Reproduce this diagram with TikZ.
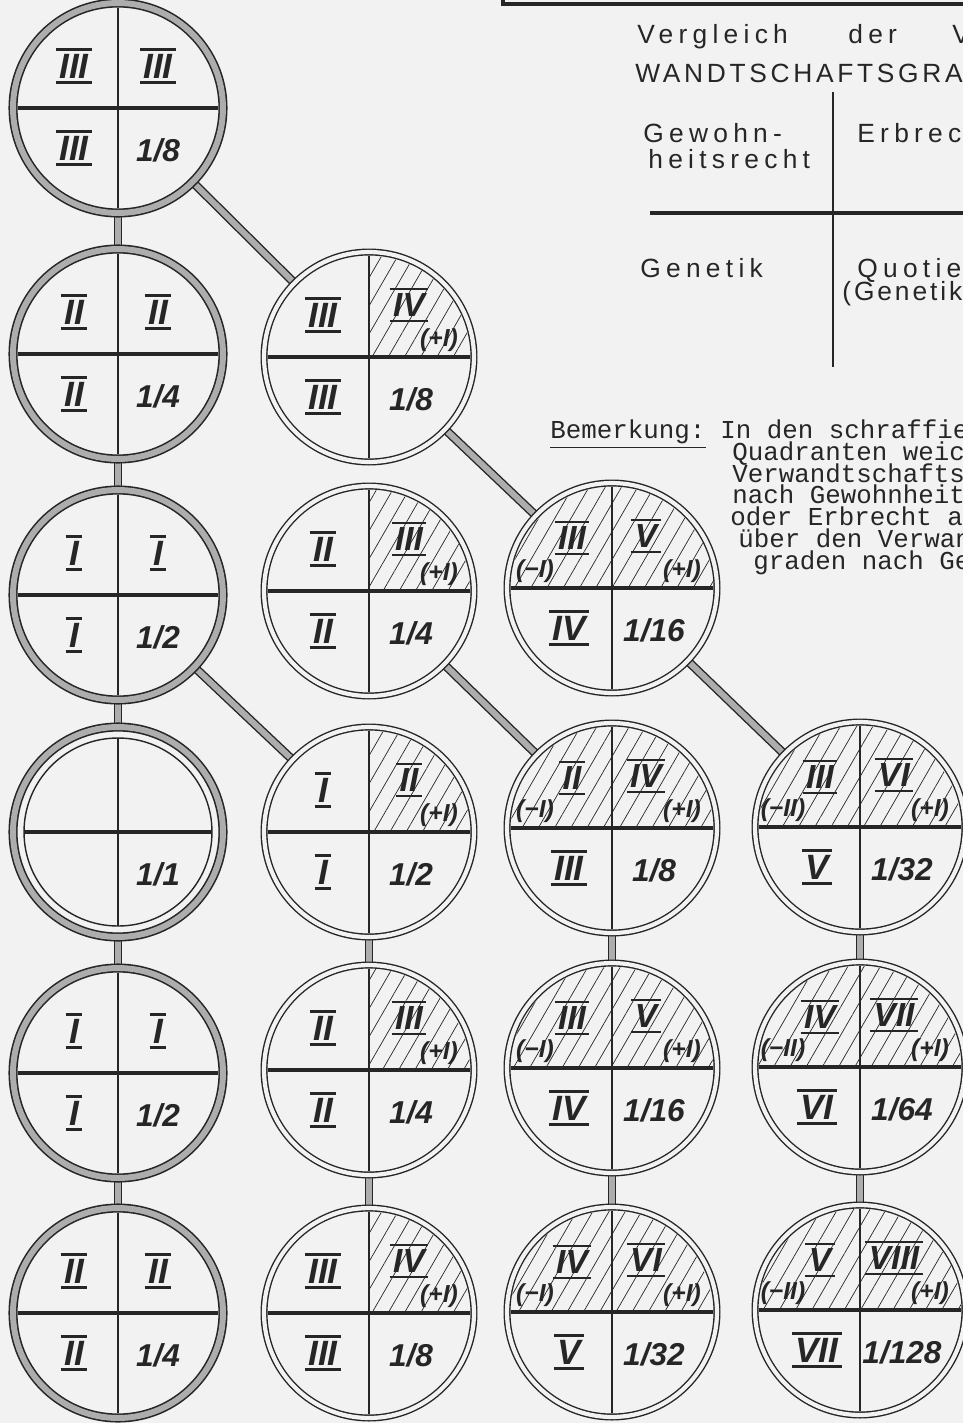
\documentclass[tikz,border=0pt]{standalone}
\usepackage{fontspec}
\setmainfont{Liberation Sans}
\newfontfamily\handfont{Liberation Sans}
\newfontfamily\spacedfont{Liberation Sans}[LetterSpace=20]
\newfontfamily\capsfont{Liberation Sans}[LetterSpace=14]
\newfontfamily\tightfont{Liberation Sans}[LetterSpace=11]
\newfontfamily\typefont{Liberation Mono}
\usepackage{tikz}
\usetikzlibrary{patterns.meta}
\definecolor{paper}{gray}{0.95}
\colorlet{ink}{black!85}
\pgfdeclarelayer{paper}
\pgfdeclarelayer{links}
\pgfsetlayers{paper,links,main}
\tikzset{
  ring/.style={circle,draw=ink,line width=0.8pt,double=paper,double distance=2.4pt,
    minimum size=4.2cm,inner sep=0pt,outer sep=0pt},
  pring/.style={ring,line width=0.9pt,double=black!32,double distance=3.4pt},
  link/.style={draw=ink,line width=0.8pt,double=black!32,double distance=3.4pt},
  divh/.style={draw=ink,line width=2pt},
  divv/.style={draw=ink,line width=0.7pt},
  hatch/.style={pattern={Lines[angle=60,distance=8pt,line width=0.4pt]},pattern color=ink},
  numb/.style={font=\handfont\bfseries\itshape\fontsize{20}{20}\selectfont,text=ink,inner sep=0pt},
  hnum/.style={numb,font=\handfont\bfseries\itshape\fontsize{19}{19}\selectfont},
  frac/.style={numb,font=\handfont\bfseries\itshape\fontsize{18}{18}\selectfont},
  tag/.style={numb,font=\handfont\bfseries\itshape\fontsize{14}{14}\selectfont},
  title/.style={font=\spacedfont\fontsize{15}{15}\selectfont,text=ink,inner sep=0pt,anchor=base west},
  mono/.style={font=\typefont\fontsize{14.7}{14.7}\selectfont,text=ink,inner sep=0pt,
    text height=8.5pt,text depth=2pt,anchor=base west},
}
\newcommand{\rnum}[1]{{\setbox0=\hbox{#1}%  roman numeral with bar above and below
  \vbox{\hrule height1.3pt width\dimexpr\wd0+4pt\relax\kern1.8pt
    \hbox to\dimexpr\wd0+4pt\relax{\hfil\copy0\hfil}\kern1.8pt
    \hrule height1.3pt width\dimexpr\wd0+4pt\relax}}}
\newcommand{\pdisc}[8]{% x, y, name, half divider, UL, UR, LL, LR   (grainy ring)
  \node[pring] (#3) at (#1,#2) {};
  \draw[divh] (#1-#4,#2) -- (#1+#4,#2);
  \draw[divv] (#1,#2-#4) -- (#1,#2+#4);
  \node[numb] (#3-ul) at (#1-44,#2-42) {#5};
  \node[numb] (#3-ur) at (#1+40,#2-42) {#6};
  \node[numb] (#3-ll) at (#1-44,#2+40) {#7};
  \node[frac] (#3-lr) at (#1+40,#2+42) {#8};}
\newcommand{\hdisc}[7]{% x, y, name, UL, UR, LL, LR   (upper right hatched)
  \node[ring] (#3) at (#1,#2) {};
  \fill[hatch] (#1,#2) -- (#1+101,#2) arc[start angle=0,end angle=-90,radius=101] -- cycle;
  \draw[divh] (#1-101,#2) -- (#1+101,#2);
  \draw[divv] (#1,#2-101) -- (#1,#2+101);
  \node[numb] (#3-ul) at (#1-46,#2-42) {#4};
  \node[hnum] (#3-ur) at (#1+40,#2-52) {#5};
  \node[tag] (#3-up) at (#1+70,#2-17) {(+I)};
  \node[numb] (#3-ll) at (#1-46,#2+40) {#6};
  \node[frac] (#3-lr) at (#1+42,#2+42) {#7};}
\newcommand{\ddisc}[8]{% x, y, name, UL, UL tag, UR, LL, LR   (both upper hatched)
  \node[ring] (#3) at (#1,#2) {};
  \fill[hatch] (#1-101,#2) arc[start angle=-180,end angle=0,radius=101] -- cycle;
  \draw[divh] (#1-101,#2) -- (#1+101,#2);
  \draw[divv] (#1,#2-101) -- (#1,#2+101);
  \node[hnum] (#3-ul) at (#1-40,#2-50) {#4};
  \node[tag] (#3-ut) at (#1-77,#2-17) {#5};
  \node[hnum] (#3-ur) at (#1+34,#2-52) {#6};
  \node[tag] (#3-up) at (#1+70,#2-17) {(+I)};
  \node[numb] (#3-ll) at (#1-43,#2+40) {#7};
  \node[frac] (#3-lr) at (#1+42,#2+42) {#8};}

\begin{document}
\begin{tikzpicture}[x=0.02cm,y=-0.02cm]
  \useasboundingbox (0,0) rectangle (963,1423);
  \begin{pgfonlayer}{paper}
    \fill[paper] (0,0) rectangle (963,1423);
  \end{pgfonlayer}
  \clip (0,0) rectangle (963,1423);
  % direct line
  \pdisc{118}{108}{c1a}{100}{\rnum{III}}{\rnum{III}}{\rnum{III}}{1/8}
  \pdisc{118}{354}{c1b}{100}{\rnum{II}}{\rnum{II}}{\rnum{II}}{1/4}
  \pdisc{118}{595}{c1c}{100}{\rnum{I}}{\rnum{I}}{\rnum{I}}{1/2}
  \pdisc{118}{832}{c1d}{94}{}{}{}{1/1}
  \draw[draw=ink,line width=0.8pt] (c1d.center) circle (94);
  \pdisc{118}{1073}{c1e}{100}{\rnum{I}}{\rnum{I}}{\rnum{I}}{1/2}
  \pdisc{118}{1313}{c1f}{100}{\rnum{II}}{\rnum{II}}{\rnum{II}}{1/4}
  % second row
  \hdisc{369}{357}{c2a}{\rnum{III}}{\rnum{IV}}{\rnum{III}}{1/8}
  \hdisc{369}{591}{c2b}{\rnum{II}}{\rnum{III}}{\rnum{II}}{1/4}
  \hdisc{369}{832}{c2c}{\rnum{I}}{\rnum{II}}{\rnum{I}}{1/2}
  \hdisc{369}{1070}{c2d}{\rnum{II}}{\rnum{III}}{\rnum{II}}{1/4}
  \hdisc{369}{1313}{c2e}{\rnum{III}}{\rnum{IV}}{\rnum{III}}{1/8}
  % third row
  \ddisc{612}{588}{c3a}{\rnum{III}}{(−I)}{\rnum{V}}{\rnum{IV}}{1/16}
  \ddisc{612}{828}{c3b}{\rnum{II}}{(−I)}{\rnum{IV}}{\rnum{III}}{1/8}
  \ddisc{612}{1068}{c3c}{\rnum{III}}{(−I)}{\rnum{V}}{\rnum{IV}}{1/16}
  \ddisc{612}{1312}{c3d}{\rnum{IV}}{(−I)}{\rnum{VI}}{\rnum{V}}{1/32}
  % fourth row
  \ddisc{860}{827}{c4a}{\rnum{III}}{(−II)}{\rnum{VI}}{\rnum{V}}{1/32}
  \ddisc{860}{1067}{c4b}{\rnum{IV}}{(−II)}{\rnum{VII}}{\rnum{VI}}{1/64}
  \ddisc{860}{1310}{c4c}{\rnum{V}}{(−II)}{\rnum{VIII}}{\rnum{VII}}{1/128}
  % links under the rings
  \begin{pgfonlayer}{links}
    \draw[link] (c1a) -- (c1b); \draw[link] (c1b) -- (c1c);
    \draw[link] (c1c) -- (c1d); \draw[link] (c1d) -- (c1e);
    \draw[link] (c1e) -- (c1f);
    \draw[link] (c1a) -- (c2a); \draw[link] (c2a) -- (c3a);
    \draw[link] (c1c) -- (c2c); \draw[link] (c2b) -- (c3b);
    \draw[link] (c3a) -- (c4a);
    \draw[link] (c2c) -- (c2d); \draw[link] (c2d) -- (c2e);
    \draw[link] (c3b) -- (c3c); \draw[link] (c3c) -- (c3d);
    \draw[link] (c4a) -- (c4b); \draw[link] (c4b) -- (c4c);
  \end{pgfonlayer}
  % legend box
  \draw[draw=ink,line width=2pt] (503,0) -- (503,4) -- (963,4);
  \node[title] (vgl) at (637,43) {Vergleich};
  \node[title] (der) at (848,43) {der};
  \node[title] (vv) at (952,43) {V};
  \node[title,font=\capsfont\fontsize{15}{15}\selectfont] (wand) at (635,82) {WANDTSCHAFTSGRA};
  \draw[divv,line width=0.9pt] (833,92) -- (833,367);
  \draw[divh] (650,213) -- (963,213);
  \node[title] (gew) at (643,142) {Gewohn-};
  \node[title] (heit) at (648,168) {heitsrecht};
  \node[title] (erb) at (857,142) {Erbrec};
  \node[title] (gen) at (640,277) {Genetik};
  \node[title] (quo) at (857,277) {Quotie};
  \node[title,font=\tightfont\fontsize{15}{15}\selectfont] (qgen) at (842,300) {(Genetik};
  % remark
  \node[mono] (bem) at (550,438) {Bemerkung:};
  \draw[draw=ink,line width=0.9pt] ([yshift=-5.5pt]bem.base west) -- ([yshift=-5.5pt]bem.base east);
  \node[mono] (rm1) at (720,438) {In den schraffie};
  \node[mono] (rm2) at (732,460) {Quadranten weich};
  \node[mono] (rm3) at (732,482) {Verwandtschaftsg};
  \node[mono] (rm4) at (732,503) {nach Gewohnheits};
  \node[mono] (rm5) at (730,525) {oder Erbrecht ab};
  \node[mono] (rm6) at (738,547) {über den Verwan};
  \node[mono] (rm7) at (753,569) {graden nach Ge};
\end{tikzpicture}
\end{document}
